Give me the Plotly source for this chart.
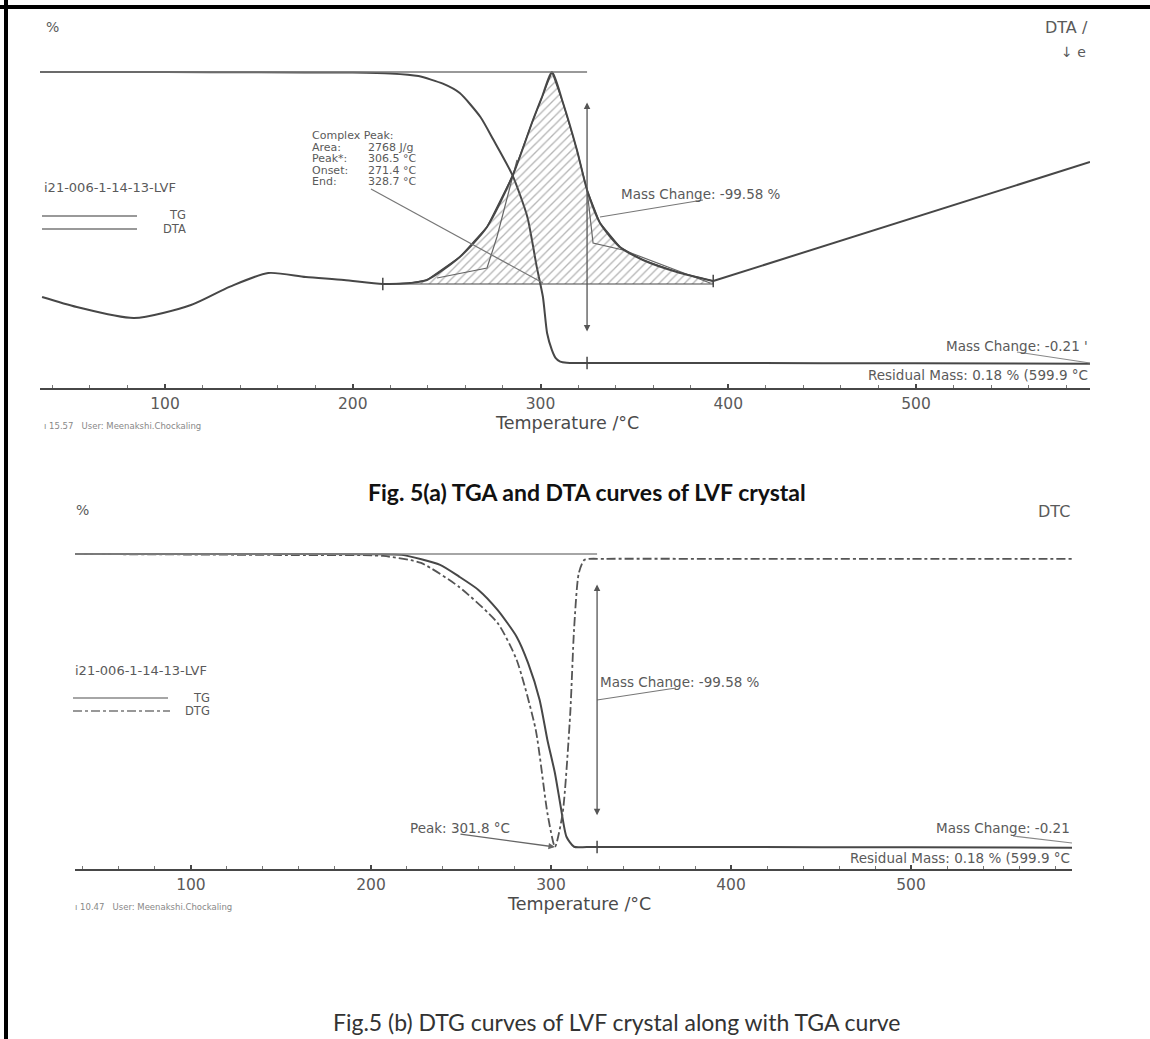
import plotly.graph_objects as go

W, H = 1150, 1039

# ---------------- data : Fig. 5(a) TG + DTA ----------------
tg_a_T = [33.4, 100, 150, 200, 220, 235, 248, 257, 268, 275, 285, 293, 298, 301.3,
          303.5, 306, 308, 310.5, 314, 320, 400, 500, 592.7]
tg_a_mass = [100.0, 100.0, 99.9, 99.8, 99.5, 98.6, 96.0, 92.8, 84.6, 76.7, 64.8, 50.4,
             33.3, 23.0, 10.7, 5.0, 2.2, 0.9, 0.5, 0.42, 0.40, 0.30, 0.20]

dta_T = [34.5, 53, 83.5, 113.8, 134.6, 155, 175, 195.3, 216, 230.5, 239.5, 257,
         271.5, 285.3, 296, 301, 306.1, 312, 319.4, 324.8, 331.7, 342.3, 354.6,
         372.7, 392, 592.7]
dta_val = [-0.65, -1.15, -1.7, -1.05, -0.13, 0.55, 0.35, 0.2, 0.0, 0.05, 0.2, 1.35,
           2.85, 5.45, 8.2, 9.4, 10.6, 9.05, 6.7, 4.7, 3.05, 1.85, 1.2, 0.6, 0.15, 6.1]

peak_limits_T = [216.0, 392.0]
inner_left_T = [244.9, 271.5, 276.8, 287.5]
inner_left_val = [0.3, 0.8, 2.35, 6.2]
inner_right_T = [324.8, 328.0, 344.0, 390.3]
inner_right_val = [4.7, 2.05, 1.7, 0.05]
step_end_T_a = 324.8

# ---------------- data : Fig. 5(b) TG + DTG ----------------
tg_b_T = [35.6, 100, 150, 200, 217.1, 238.4, 249.0, 259.7, 270.3, 280.9, 287.3,
          293.7, 298.0, 302.2, 305.4, 308.6, 312.8, 320, 400, 500, 589.4]
tg_b_mass = [100.0, 100.0, 100.0, 99.9, 99.7, 96.3, 92.3, 87.8, 81.0, 71.9, 62.9,
             50.4, 36.8, 25.5, 14.1, 3.9, 0.5, 0.42, 0.40, 0.30, 0.20]

dtg_T = [35.6, 100, 150, 206.7, 227.8, 249.0, 270.3, 280.9, 291.5, 298.0, 302.2,
         306.5, 310.7, 312.8, 315.4, 318.6, 330, 400, 500, 589.4]
dtg_val = [0.2, 0.15, 0.1, 0.0, -0.72, -3.2, -6.9, -10.7, -17.9, -26.5, -30.0,
           -26.5, -16.2, -7.6, -1.8, -0.4, -0.3, -0.3, -0.3, -0.3]
step_end_T_b = 325.6
dtg_peak_T = 302.2

mass_before = 100.0
mass_after = 0.42
arrow_span = [89.6, 10.7]
tick_vals = [100, 200, 300, 400, 500]

# ---------------- styling ----------------
LINE = "#474747"
TXT = "#5a5a5a"
FONT = "DejaVu Sans"


def xdom(x0, x1):
    return [x0 / W, x1 / W]


def ydom(top, bottom):
    return [1 - bottom / H, 1 - top / H]


def P(x, y):
    return x / W, 1 - y / H


fig = go.Figure()

# ---- panel (a) ----
i_end = dta_T.index(peak_limits_T[1])
i_start = dta_T.index(peak_limits_T[0])
hatch_T = dta_T[i_start:i_end + 1] + [peak_limits_T[1], peak_limits_T[0]]
hatch_v = dta_val[i_start:i_end + 1] + [0.0, 0.0]
fig.add_trace(go.Scatter(x=hatch_T, y=hatch_v, xaxis="x", yaxis="y2", mode="lines",
                         fill="toself", fillcolor="rgba(255,255,255,0)",
                         fillpattern=dict(shape="/", fgcolor="#6a6a6a", size=6, solidity=0.22),
                         line=dict(color=LINE, width=1.2), hoverinfo="skip"))
fig.add_trace(go.Scatter(x=inner_left_T, y=inner_left_val, xaxis="x", yaxis="y2", mode="lines",
                         line=dict(color="#666", width=1.2)))
fig.add_trace(go.Scatter(x=inner_right_T, y=inner_right_val, xaxis="x", yaxis="y2", mode="lines",
                         line=dict(color="#666", width=1.2)))
fig.add_trace(go.Scatter(x=dta_T[:i_end + 1], y=dta_val[:i_end + 1], xaxis="x", yaxis="y2",
                         mode="lines", line=dict(color=LINE, width=2, shape="spline", smoothing=0.7)))
fig.add_trace(go.Scatter(x=dta_T[i_end:], y=dta_val[i_end:], xaxis="x", yaxis="y2",
                         mode="lines", line=dict(color=LINE, width=2)))
fig.add_trace(go.Scatter(x=tg_a_T, y=tg_a_mass, xaxis="x", yaxis="y", mode="lines",
                         line=dict(color=LINE, width=2, shape="spline", smoothing=0.6)))
fig.add_trace(go.Scatter(x=[peak_limits_T[0], peak_limits_T[1]],
                         y=[0.0, dta_val[i_end]], xaxis="x", yaxis="y2", mode="markers",
                         marker=dict(symbol="line-ns", size=9, line=dict(width=1.5, color=LINE))))
fig.add_trace(go.Scatter(x=[step_end_T_a], y=[mass_after], xaxis="x", yaxis="y", mode="markers",
                         marker=dict(symbol="line-ns", size=9, line=dict(width=1.5, color=LINE))))

# ---- panel (b) ----
fig.add_trace(go.Scatter(x=dtg_T, y=dtg_val, xaxis="x2", yaxis="y4", mode="lines",
                         line=dict(color="#555", width=1.8, dash="dashdot", shape="spline", smoothing=0.6)))
fig.add_trace(go.Scatter(x=tg_b_T, y=tg_b_mass, xaxis="x2", yaxis="y3", mode="lines",
                         line=dict(color=LINE, width=2, shape="spline", smoothing=0.6)))
fig.add_trace(go.Scatter(x=[step_end_T_b], y=[mass_after], xaxis="x2", yaxis="y3", mode="markers",
                         marker=dict(symbol="line-ns", size=9, line=dict(width=1.5, color=LINE))))

xcommon = dict(showline=True, linecolor=LINE, linewidth=2, showgrid=False, zeroline=False,
               ticks="inside", ticklen=4, tickwidth=1.5, tickcolor=LINE,
               tickmode="array", tickvals=tick_vals,
               tickfont=dict(family=FONT, size=15.5, color=TXT),
               minor=dict(ticks="inside", ticklen=3, tickwidth=1.2, tickcolor="#777",
                          dtick=20, tick0=0, showgrid=False))
fig.update_layout(
    width=W, height=H, margin=dict(l=0, r=0, t=0, b=0),
    paper_bgcolor="white", plot_bgcolor="rgba(0,0,0,0)", showlegend=False,
    xaxis=dict(domain=xdom(40, 1090), range=[33.4, 592.7], anchor="y", **xcommon),
    yaxis=dict(domain=ydom(20, 388), range=[-8.14, 117.8], visible=False),
    yaxis2=dict(domain=ydom(20, 388), range=[-5.2, 13.2], overlaying="y", visible=False),
    xaxis2=dict(domain=xdom(75, 1072), range=[35.6, 589.4], anchor="y3", **xcommon),
    yaxis3=dict(domain=ydom(500, 869), range=[-7.06, 118.35], visible=False),
    yaxis4=dict(domain=ydom(500, 869), range=[-32.27, 5.77], overlaying="y3", visible=False),
)

shapes = []


def pline(x0, y0, x1, y1, color="#666", width=1.2, dash="solid"):
    a = P(x0, y0)
    b = P(x1, y1)
    shapes.append(dict(type="line", xref="paper", yref="paper", x0=a[0], y0=a[1],
                       x1=b[0], y1=b[1], line=dict(color=color, width=width, dash=dash)))


# outer frame (top & left)
pline(0, 7, W, 7, color="black", width=4)
pline(6, 0, 6, H, color="black", width=4)

# reference (step) lines
shapes.append(dict(type="line", xref="x", yref="y", x0=33.4, x1=step_end_T_a, y0=mass_before,
                   y1=mass_before, line=dict(color="#777", width=1.3)))
shapes.append(dict(type="line", xref="x2", yref="y3", x0=35.6, x1=step_end_T_b, y0=mass_before,
                   y1=mass_before, line=dict(color="#888", width=1.3)))

# legend lines
pline(42, 216, 137, 216, color="#777", width=1.3)
pline(42, 229, 137, 229, color="#777", width=1.3)
pline(73, 698, 168, 698, color="#888", width=1.3)
pline(73, 711, 170, 711, color="#777", width=1.5, dash="dashdot")

# leader lines
pline(371, 189, 543, 283, color="#777", width=1.2)
pline(600, 217, 703, 200, color="#777", width=1.2)
pline(1017, 352, 1090, 363, color="#888", width=1.2)
pline(597, 700, 676, 688, color="#777", width=1.2)
pline(1013, 836, 1072, 843, color="#888", width=1.2)

fig.update_layout(shapes=shapes)

ann = []


def text(x, y, s, size=13.5, anchor="left", color=TXT, family=FONT, weight=None):
    fx, fy = P(x, y)
    f = dict(family=family, size=size, color=color)
    if weight:
        f["weight"] = weight
    ann.append(dict(xref="paper", yref="paper", x=fx, y=fy, text=s, showarrow=False,
                    xanchor=anchor, yanchor="middle", font=f))


# panel (a) texts
text(44, 27, "%", size=14)
text(1090, 27, "DTA /", size=16, anchor="right")
text(1088, 52, "↓ e", size=14, anchor="right")
cp_labels = ["Complex Peak:", "Area:", "Peak*:", "Onset:", "End:"]
cp_values = ["", "2768 J/g", "306.5 °C", "271.4 °C", "328.7 °C"]
for k, (lab, val) in enumerate(zip(cp_labels, cp_values)):
    yy = 136 + k * 11.4
    text(310, yy, lab, size=11)
    if val:
        text(366, yy, val, size=11)
text(42, 187, "i21-006-1-14-13-LVF", size=13)
text(188, 215, "TG", size=11.5, anchor="right")
text(188, 229, "DTA", size=11.5, anchor="right")
text(619, 194, "Mass Change: -99.58 %", size=13.5)
text(1090, 346, "Mass Change: -0.21 '", size=13.5, anchor="right")
text(1090, 375, "Residual Mass: 0.18 % (599.9 °C", size=13.5, anchor="right")
text(567, 423, "Temperature /°C", size=17.5, anchor="center", color="#4a4a4a")
text(42, 426, "ı 15.57   User: Meenakshi.Chockaling", size=8.5, color="#888")

# caption (a)
text(587, 492, "Fig. 5(a) TGA and DTA curves of LVF crystal", size=23, anchor="center",
     color="#111", family="Lato", weight="bold")

# panel (b) texts
text(74, 510, "%", size=14)
text(1072, 511, "DTC", size=16, anchor="right")
text(73, 670, "i21-006-1-14-13-LVF", size=13)
text(212, 698, "TG", size=11.5, anchor="right")
text(212, 711, "DTG", size=11.5, anchor="right")
text(598, 682, "Mass Change: -99.58 %", size=13.5)
text(408, 828, "Peak: 301.8 °C", size=13.5)
text(1072, 828, "Mass Change: -0.21", size=13.5, anchor="right")
text(1072, 858, "Residual Mass: 0.18 % (599.9 °C", size=13.5, anchor="right")
text(579, 904, "Temperature /°C", size=17.5, anchor="center", color="#4a4a4a")
text(73, 907, "ı 10.47   User: Meenakshi.Chockaling", size=8.5, color="#888")

# caption (b)
text(617, 1022, "Fig.5 (b) DTG curves of LVF crystal along with TGA curve", size=23,
     anchor="center", color="#333", family="Lato")

# double arrows for mass step
ann.append(dict(xref="x", yref="y", x=step_end_T_a, y=arrow_span[0], axref="x", ayref="y",
                ax=step_end_T_a, ay=arrow_span[1], text="", showarrow=True, arrowhead=2,
                arrowside="end+start", arrowsize=1, arrowwidth=1.3, arrowcolor="#555"))
ann.append(dict(xref="x2", yref="y3", x=step_end_T_b, y=arrow_span[0], axref="x2", ayref="y3",
                ax=step_end_T_b, ay=arrow_span[1], text="", showarrow=True, arrowhead=2,
                arrowside="end+start", arrowsize=1, arrowwidth=1.3, arrowcolor="#555"))
# DTG peak leader arrow
ann.append(dict(xref="x2", yref="y4", x=dtg_peak_T, y=min(dtg_val), ax=-96, ay=-13,
                text="", showarrow=True, arrowhead=2, arrowsize=1, arrowwidth=1.3,
                arrowcolor="#666"))

fig.update_layout(annotations=ann)

fig.write_html("out.html")
